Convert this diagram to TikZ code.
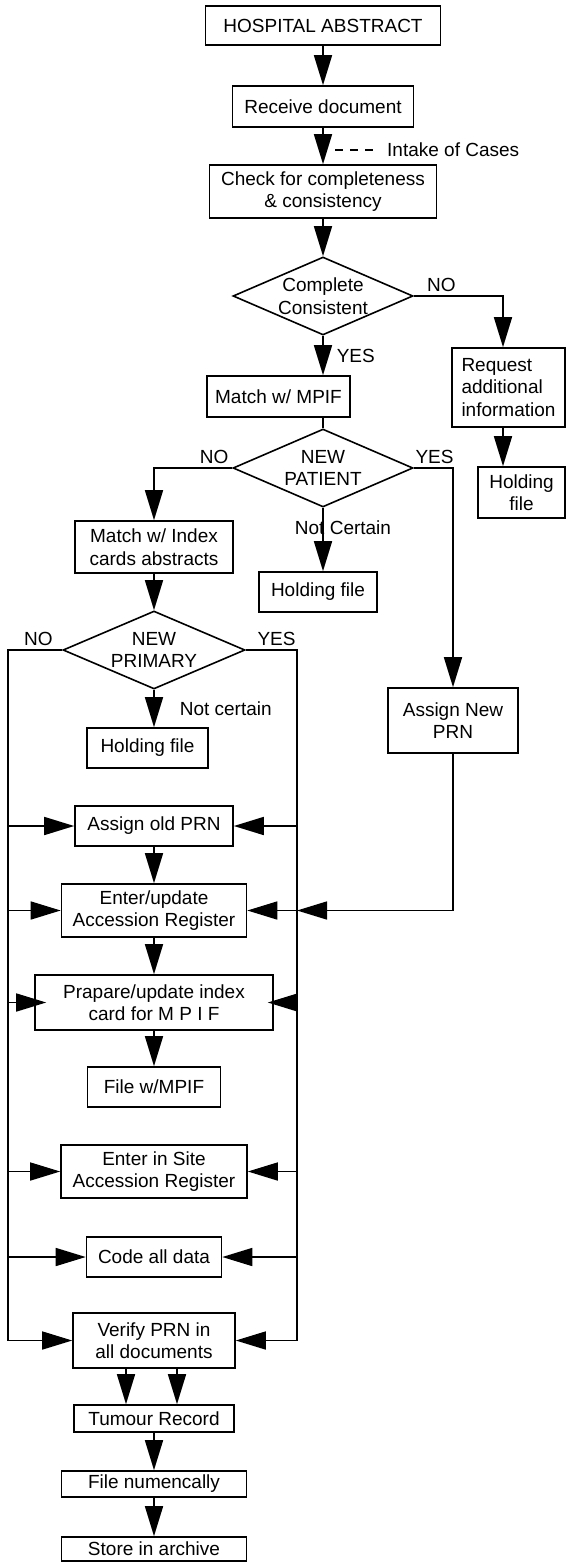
\documentclass[tikz,border=0pt]{standalone}
\usepackage{fontspec}
\setmainfont{Liberation Sans}
\usepackage{tikz}
\usetikzlibrary{arrows.meta, positioning, shapes}

\begin{document}
\begin{tikzpicture}[
    x=1pt, y=-1pt,
    every node/.style={font=\fontsize{19}{22.5}\selectfont},
    box/.style={draw, rectangle, line width=1.6pt, inner sep=1pt, align=center},
    decision/.style={draw, diamond, aspect=2.2, inner sep=-8pt, line width=1.6pt, align=center, minimum width=180pt, minimum height=78pt},
    flow/.style={-{Triangle[length=30pt, width=18pt]}, line width=1.6pt},
    wire/.style={line width=1.6pt},
    lbl/.style={inner sep=1pt}
]
    \useasboundingbox (0,0) rectangle (568,1562);

    % intake
    \node[box, minimum width=235pt, minimum height=39pt] (hosp) at (323,25.5) {HOSPITAL ABSTRACT};
    \node[box, minimum width=181pt, minimum height=41pt] (recv) at (323,106.5) {Receive document};
    \node[box, minimum width=227pt, minimum height=53pt] (check) at (323,191.5) {Check for completeness\\\& consistency};
    \node[decision] (cc) at (323,296) {Complete\\Consistent};
    \node[box, align=left, minimum width=113pt, minimum height=79pt] (req) at (508.5,387.5) {Request\\additional\\information};
    \node[box, minimum width=87pt, minimum height=51pt] (hold2) at (521.5,492.5) {Holding\\file};
    \node[box, minimum width=143pt, minimum height=41pt] (match) at (278.5,396.5) {Match w/ MPIF};
    \node[decision] (np) at (323,468) {NEW\\PATIENT};
    \node[box, minimum width=118pt, minimum height=40pt] (hold1) at (318,592) {Holding file};
    \node[box, minimum width=130pt, minimum height=65pt] (newprn) at (453,720.5) {Assign New\\PRN};

    % left column
    \node[box, minimum width=158pt, minimum height=52pt] (index) at (154,547) {Match w/ Index\\cards abstracts};
    \node[decision, minimum width=182pt] (prim) at (154,650) {NEW\\PRIMARY};
    \node[box, minimum width=121pt, minimum height=40pt] (hold3) at (147.5,748) {Holding file};
    \node[box, minimum width=158pt, minimum height=40pt] (oldprn) at (154,826) {Assign old PRN};
    \node[box, minimum width=185pt, minimum height=53pt] (enter) at (154,910.5) {Enter/update\\Accession Register};
    \node[box, minimum width=238pt, minimum height=55pt] (prep) at (154,1002.5) {Prapare/update index\\card for M P I F};
    \node[box, minimum width=133pt, minimum height=40pt] (filempif) at (154,1087) {File w/MPIF};
    \node[box, minimum width=186pt, minimum height=53pt] (site) at (154,1171.5) {Enter in Site\\Accession Register};
    \node[box, minimum width=135pt, minimum height=40pt] (code) at (154,1257) {Code all data};
    \node[box, minimum width=162pt, minimum height=55pt] (verify) at (154,1340.5) {Verify PRN in\\all documents};
    \node[box, minimum width=160pt, minimum height=27pt] (tumour) at (154,1418.5) {Tumour Record};
    \node[box, minimum width=185pt, minimum height=26pt] (filenum) at (154,1484) {File numencally};
    \node[box, minimum width=185pt, minimum height=24pt] (store) at (154,1549) {Store in archive};

    \coordinate (rcol) at (503,296);
    \coordinate (lb) at (8,650);
    \coordinate (rb) at (297,650);
    \coordinate (dashst) at (335,150);
    \node[lbl, anchor=west] (intake) at (386,150) {Intake of Cases};

    \draw[flow] (hosp) -- (recv);
    \draw[flow] (recv) -- (check);
    \draw[wire, dash pattern=on 8pt off 7pt] (dashst) -- ([xshift=-13pt]intake.west);
    \draw[flow] (check) -- (cc);

    \draw[flow] (cc.east) -- node[lbl, above=3pt, pos=0.31] {NO} (rcol) -- (rcol |- req.north);
    \draw[flow] (rcol |- req.south) -- (rcol |- hold2.north);
    \draw[flow] (cc.south) -- node[lbl, right=12pt] {YES} (cc.south |- match.north);
    \draw[wire] (match.south -| np.north) -- (np.north);

    \draw[flow] (np.west) -| node[lbl, above=3pt, pos=0.115] {NO} (index.north);
    \draw[flow] (np.east) -| node[lbl, above=3pt, pos=0.265] {YES} (newprn.north);
    \draw[flow] (np.south) -- node[lbl, pos=0.31, xshift=20pt] {Not Certain} (np.south |- hold1.north);

    \draw[flow] (index) -- (prim);
    \draw[flow] (prim.west) -- node[lbl, above=3pt, pos=0.44] {NO} (lb) |- (verify.west);
    \draw[flow] (prim.east) -- node[lbl, above=3pt, pos=0.6] {YES} (rb) |- (verify.east);
    \draw[flow] (prim.south) -- node[lbl, right=24pt] {Not certain} (prim.south |- hold3.north);

    \foreach \n in {oldprn, enter, site, code} {
        \draw[flow] (lb |- \n.west) -- (\n.west);
        \draw[flow] (rb |- \n.east) -- (\n.east);
    }
    \draw[flow] (lb |- prep.west) -- ([xshift=12pt]prep.west);
    \draw[flow] (rb |- prep.east) -- ([xshift=-6pt]prep.east);
    \draw[flow] (newprn.south) |- (rb |- enter.east);

    \draw[flow] (oldprn) -- (enter);
    \draw[flow] (enter) -- (prep);
    \draw[flow] (prep) -- (filempif);
    \draw[flow] ([xshift=-28pt]verify.south) -- ([xshift=-28pt]verify.south |- tumour.north);
    \draw[flow] ([xshift=23pt]verify.south) -- ([xshift=23pt]verify.south |- tumour.north);
    \draw[flow] (tumour) -- (filenum);
    \draw[flow] (filenum) -- (store);
\end{tikzpicture}
\end{document}
